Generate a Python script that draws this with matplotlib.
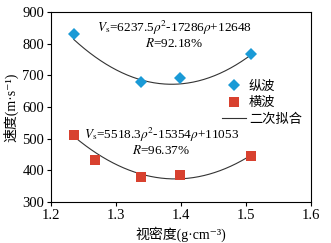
import matplotlib.pyplot as plt
import numpy as np

plt.rcParams['font.family'] = ['Liberation Serif', 'Noto Sans CJK SC', 'DejaVu Serif']
plt.rcParams['mathtext.fontset'] = 'stix'

# measured points
rho_p = [1.235, 1.338, 1.398, 1.508]
vp = [830, 678, 693, 768]
rho_s = [1.235, 1.268, 1.338, 1.398, 1.508]
vs = [512, 433, 380, 386, 446]

# quadratic fit coefficients (from the equations on the chart)
coef_p = [6237.5, -17286, 12648]
coef_s = [5518.3, -15354, 11053]

fig = plt.figure(figsize=(3.31, 2.43), dpi=100)
ax = fig.add_axes([51/331, 1 - 202/243, 260/331, 190/243])

x = np.linspace(1.235, 1.508, 200)
ax.plot(rho_p, vp, 'D', color='#1a9ad6', ms=6.5, mew=0, label='纵波', zorder=3)
ax.plot(rho_s, vs, 's', color='#d8412f', ms=7.5, mew=0, label='横波', zorder=3)
ax.plot(x, np.polyval(coef_p, x), color='#333333', lw=0.8, label='二次拟合')
ax.plot(x, np.polyval(coef_s, x), color='#333333', lw=0.8)

ax.set_xlim(1.2, 1.6)
ax.set_ylim(300, 900)
ax.set_xticks([1.2, 1.3, 1.4, 1.5, 1.6])
ax.set_yticks([300, 400, 500, 600, 700, 800, 900])
ax.tick_params(labelsize=10.5, length=3, width=0.8, direction='out', pad=2)
for s in ax.spines.values():
    s.set_linewidth(0.8)

ax.set_xlabel('视密度(g·cm⁻³)', fontsize=10, labelpad=3)
ax.set_ylabel('速度(m·s⁻¹)', fontsize=10, labelpad=3)

ax.text(1.39, 849, r'$V_{\rm s}$=6237.5$\rho^2$-17286$\rho$+12648', ha='center', va='center', fontsize=9.5)
ax.text(1.39, 802, r'$R$=92.18%', ha='center', va='center', fontsize=9.5)
ax.text(1.37, 511, r'$V_{\rm s}$=5518.3$\rho^2$-15354$\rho$+11053', ha='center', va='center', fontsize=9.5)
ax.text(1.37, 464, r'$R$=96.37%', ha='center', va='center', fontsize=9.5)

ax.legend(loc='center right', bbox_to_anchor=(1.0, 0.52), frameon=False, fontsize=9.5,
          handlelength=1.8, handletextpad=0.2, labelspacing=0.3, borderpad=0.2)

fig.savefig('out.png', dpi=100)
